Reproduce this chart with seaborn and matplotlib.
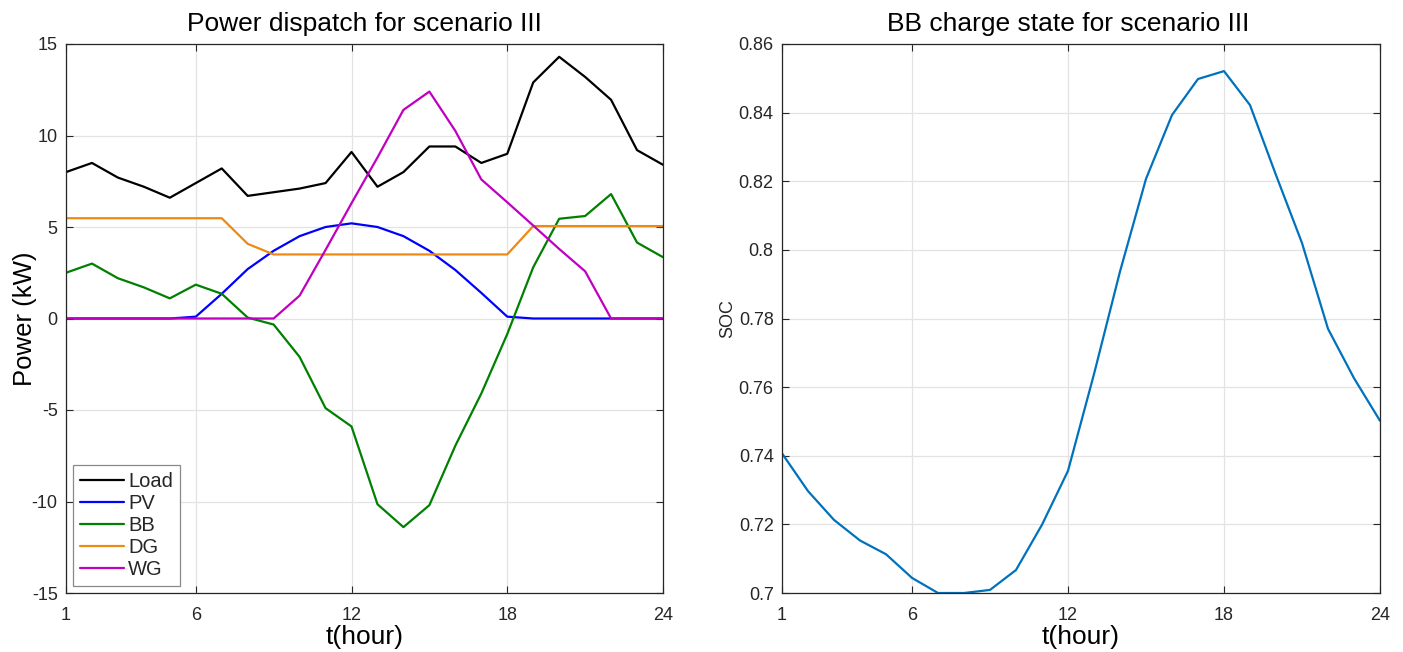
import numpy as np
import pandas as pd
import matplotlib
matplotlib.use("Agg")
import matplotlib.pyplot as plt
from matplotlib.ticker import FuncFormatter
import seaborn as sns

# ---------------- data ----------------
hours = list(range(1, 25))
load = [8.0, 8.5, 7.7, 7.2, 6.6, 7.4, 8.2, 6.7, 6.9, 7.1, 7.4, 9.1,
        7.2, 8.0, 9.4, 9.4, 8.5, 9.0, 12.9, 14.3, 13.2, 11.95, 9.2, 8.4]
pv = [0, 0, 0, 0, 0, 0.1, 1.35, 2.7, 3.7, 4.5, 5.0, 5.2,
      5.0, 4.5, 3.7, 2.65, 1.4, 0.1, 0, 0, 0, 0, 0, 0]
bb = [2.5, 3.0, 2.2, 1.7, 1.1, 1.85, 1.35, 0.05, -0.33, -2.1, -4.9, -5.9,
      -10.15, -11.4, -10.2, -6.95, -4.1, -0.85, 2.8, 5.45, 5.6, 6.8, 4.15, 3.35]
dg = [5.48, 5.48, 5.48, 5.48, 5.48, 5.48, 5.48, 4.08, 3.5, 3.5, 3.5, 3.5,
      3.5, 3.5, 3.5, 3.5, 3.5, 3.5, 5.05, 5.05, 5.05, 5.05, 5.05, 5.05]
wg = [0, 0, 0, 0, 0, 0, 0, 0, 0, 1.25, 3.75, 6.3,
      8.8, 11.4, 12.4, 10.25, 7.6, 6.35, 5.08, 3.8, 2.58, 0, 0, 0]
soc = [0.7407, 0.7297, 0.7213, 0.7153, 0.7113, 0.7044, 0.7000, 0.7000,
       0.7009, 0.7067, 0.7199, 0.7356, 0.7638, 0.7937, 0.8207, 0.8393,
       0.8498, 0.8521, 0.8422, 0.8218, 0.8020, 0.7770, 0.7626, 0.7502]

sources = ["Load", "PV", "BB", "DG", "WG"]
colors = ["#000000", "#0000FF", "#008000", "#EC8A14", "#C000C0"]
xticks = [1, 6, 12, 18, 24]
yticks_left = [-15, -10, -5, 0, 5, 10, 15]
yticks_right = [0.70, 0.72, 0.74, 0.76, 0.78, 0.80, 0.82, 0.84, 0.86]

df = pd.DataFrame({
    "t": hours * 5,
    "P": load + pv + bb + dg + wg,
    "src": [s for s in sources for _ in hours],
})
df_soc = pd.DataFrame({"t": hours, "SOC": soc})

# ---------------- style ----------------
sns.set_theme(style="white")
plt.rcParams["font.family"] = ["Liberation Sans", "DejaVu Sans"]
txt = "#262626"

fig = plt.figure(figsize=(14.03, 6.52), dpi=100)
ax1 = fig.add_axes([66 / 1403, 59 / 652, 597 / 1403, 549 / 652])
ax2 = fig.add_axes([782 / 1403, 59 / 652, 598 / 1403, 549 / 652])

sns.lineplot(data=df, x="t", y="P", hue="src", hue_order=sources,
             palette=dict(zip(sources, colors)), linewidth=1.6,
             estimator=None, ax=ax1)
sns.lineplot(data=df_soc, x="t", y="SOC", color="#0072BD", linewidth=1.6,
             estimator=None, ax=ax2)

fmt = FuncFormatter(lambda v, p: ("%g" % round(v, 4)))
for ax in (ax1, ax2):
    ax.set_xlim(1, 24)
    ax.set_xticks(xticks)
    ax.grid(True, color="#e3e3e3", linewidth=0.9)
    ax.set_axisbelow(True)
    for sp in ax.spines.values():
        sp.set_color("#262626")
        sp.set_linewidth(0.9)
        sp.set_visible(True)
    ax.tick_params(direction="in", length=5, width=0.8, colors="#262626",
                   labelcolor=txt, labelsize=13, top=True, right=True,
                   bottom=True, left=True, pad=6)
    ax.tick_params(axis="x", pad=10)
    ax.set_xlabel("t(hour)", fontsize=19, color="black", labelpad=1)

ax1.set_ylim(-15, 15)
ax1.set_yticks(yticks_left)
ax1.yaxis.set_major_formatter(fmt)
ax1.set_ylabel("Power (kW)", fontsize=18.5, color="black", labelpad=-4)
ax1.set_title("Power dispatch for scenario III", fontsize=19, color="black", pad=9)

ax2.set_ylim(0.70, 0.86)
ax2.set_yticks(yticks_right)
ax2.yaxis.set_major_formatter(fmt)
ax2.set_ylabel("SOC", fontsize=13, color=txt, labelpad=2)
ax2.set_title("BB charge state for scenario III", fontsize=19, color="black",
              pad=9, x=0.478)

leg = ax1.legend(loc="lower left", bbox_to_anchor=(0.011, 0.013), fontsize=14.5,
                 frameon=True, fancybox=False, framealpha=1, edgecolor="#888888",
                 handlelength=2.2, handletextpad=0.2, labelspacing=0.15,
                 borderpad=0.35, borderaxespad=0.0)
leg.get_frame().set_linewidth(0.9)

fig.savefig("out.png", dpi=100)
